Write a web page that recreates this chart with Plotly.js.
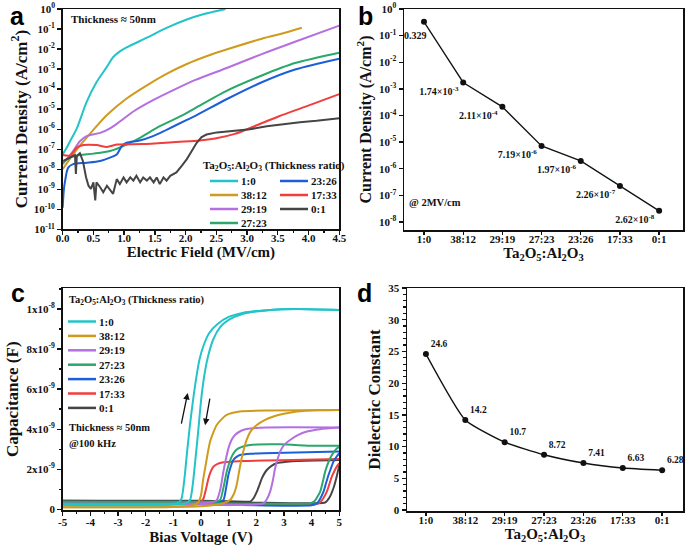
<!DOCTYPE html>
<html>
<head>
<meta charset="utf-8">
<script src="https://cdn.plot.ly/plotly-3.0.1.min.js"></script>
<style>body{margin:0;background:#fff}#fig{width:685px;height:554px}</style>
</head>
<body>
<div id="fig"></div>
<script>
// ratios and colours shared by panels a and c
var ratios = ['1:0', '38:12', '29:19', '27:23', '23:26', '17:33', '0:1'];
var colors = ['#22c4c8', '#cf9b1c', '#b46fe0', '#2aa76b', '#1c5fd8', '#f23d3d', '#454545'];

// panel a: current density (A/cm2) vs electric field (MV/cm)
var eA1 = [0, 0.06, 0.12, 0.23, 0.39, 0.55, 0.72, 0.82, 0.92, 1.04, 1.37, 1.69, 2.02, 2.3, 2.65];
var jA1 = [5.5e-8, 1.1e-7, 2.5e-7, 1.1e-6, 2.3e-5, 2.2e-4, 1.3e-3, 3.9e-3, 7.2e-3, 1.2e-2, 3.7e-2, 0.115, 0.30, 0.56, 1.0];
var eA2 = [0, 0.17, 0.34, 0.50, 0.72, 1.04, 1.37, 1.69, 2.02, 2.35, 2.69, 3.24, 3.6, 3.89];
var jA2 = [1.0e-8, 5.5e-8, 2.5e-7, 9.3e-7, 5.1e-6, 3.4e-5, 1.55e-4, 5.8e-4, 1.8e-3, 4.5e-3, 1.0e-2, 3.3e-2, 6.3e-2, 0.115];
var eA3 = [0, 0.17, 0.28, 0.39, 0.61, 0.77, 0.93, 1.15, 1.47, 1.80, 2.15, 2.69, 3.24, 3.78, 4.5];
var jA3 = [1.8e-8, 8.1e-8, 2.5e-7, 4.5e-7, 6.5e-7, 1.1e-6, 2.4e-6, 7.6e-6, 2.8e-5, 8.9e-5, 2.8e-4, 1.2e-3, 5.6e-3, 2.3e-2, 0.148];
var eA4 = [0, 0.12, 0.28, 0.50, 0.77, 1.04, 1.25, 1.58, 1.91, 2.15, 2.69, 3.24, 3.78, 4.5];
var jA4 = [2.1e-8, 3.8e-8, 5.1e-8, 6.0e-8, 8.1e-8, 1.7e-7, 3.6e-7, 1.4e-6, 4.3e-6, 1.1e-5, 8.9e-5, 4.8e-4, 2.0e-3, 6.6e-3];
var eA5 = [0, 0.02, 0.04, 0.09, 0.17, 0.39, 0.61, 0.77, 0.88, 0.96, 1.04, 1.25, 1.47, 1.69, 2.02, 2.15, 2.69, 3.24, 3.78, 4.5];
var jA5 = [1.2e-10, 1e-9, 2.7e-9, 1.2e-8, 1.8e-8, 2.1e-8, 2.6e-8, 3.8e-8, 5.5e-8, 1.4e-7, 2.1e-7, 2.7e-7, 4.5e-7, 9.3e-7, 2.9e-6, 4.5e-6, 3.4e-5, 2.2e-4, 9.5e-4, 3.3e-3];
var eA6 = [0, 0.12, 0.23, 0.34, 0.55, 0.72, 0.88, 1.3, 1.85, 2.23, 2.48, 2.80, 3.12, 3.51, 3.94, 4.5];
var jA6 = [5.1e-8, 4.8e-8, 1.2e-7, 1.6e-7, 1.6e-7, 1.3e-7, 1.7e-7, 1.8e-7, 2.3e-7, 2.7e-7, 3.4e-7, 5.8e-7, 1.4e-6, 4.3e-6, 1.3e-5, 5.6e-5];
var eA7 = [0.01, 0.12, 0.20, 0.215, 0.23, 0.28, 0.33, 0.38, 0.42, 0.46, 0.50, 0.53, 0.55, 0.61, 0.66, 0.72, 0.77, 0.82, 0.88, 0.93,
  0.99, 1.04, 1.10, 1.15, 1.20, 1.26, 1.31, 1.37, 1.42, 1.48, 1.53, 1.58, 1.64, 1.69, 1.75, 1.80, 1.85, 1.94, 2.02, 2.10,
  2.18, 2.26, 2.34, 2.51, 2.78, 3.05, 3.32, 3.59, 3.86, 4.13, 4.5];
var jA7 = [2.6e-8, 3.8e-8, 5.1e-8, 5.8e-9, 4.6e-8, 6.3e-8, 2.5e-8, 4e-9, 1.5e-9, 1.05e-9, 2.2e-9, 2.8e-10, 2.2e-9, 1.26e-9, 7.1e-10, 1.5e-9, 8.7e-10, 5.9e-10, 3.2e-9, 1.8e-9,
  3.9e-9, 2.2e-9, 3.9e-9, 2.7e-9, 4.7e-9, 2.2e-9, 3.9e-9, 2.7e-9, 3.9e-9, 2.2e-9, 3.9e-9, 1.8e-9, 3.9e-9, 2.7e-9, 4.7e-9, 5.8e-9, 6.9e-9, 1.5e-8, 3.2e-8, 8.1e-8,
  2.1e-7, 4.0e-7, 5.4e-7, 6.9e-7, 8.3e-7, 1.0e-6, 1.4e-6, 1.8e-6, 2.2e-6, 2.6e-6, 3.5e-6];
var logExpA = [-11, -10, -9, -8, -7, -6, -5, -4, -3, -2, -1, 0];

// panel b: current density at 2 MV/cm
var jAt2 = [0.329, 1.74e-3, 2.11e-4, 7.19e-6, 1.97e-6, 2.26e-7, 2.62e-8];
var jAt2Labels = ['0.329', '1.74×10<sup>-3</sup>', '2.11×10<sup>-4</sup>', '7.19×10<sup>-6</sup>', '1.97×10<sup>-6</sup>', '2.26×10<sup>-7</sup>', '2.62×10<sup>-8</sup>'];
var logExpB = [-8, -7, -6, -5, -4, -3, -2, -1, 0];

// panel c: C-V hysteresis, up sweep (u) and down sweep (d), capacitance in F
var vC1u = [-5, -1, -0.8, -0.7, -0.6, -0.5, -0.4, -0.3, -0.2, -0.05, 0.1, 0.3, 0.6, 1.0, 1.5, 2.5, 3.5, 5];
var cC1u = [0.22e-9, 0.28e-9, 0.35e-9, 0.55e-9, 1.5e-9, 2.9e-9, 4.2e-9, 5.3e-9, 6.3e-9, 7.5e-9, 8.2e-9, 8.8e-9, 9.25e-9, 9.6e-9, 9.8e-9, 9.95e-9, 10.0e-9, 9.95e-9];
var vC1d = [-5, -0.6, -0.4, -0.3, -0.2, -0.1, 0, 0.1, 0.25, 0.45, 0.7, 1.0, 1.5, 2.5, 3.5, 5];
var cC1d = [0.22e-9, 0.28e-9, 0.45e-9, 1.2e-9, 2.5e-9, 3.9e-9, 5.4e-9, 6.5e-9, 7.6e-9, 8.5e-9, 9.1e-9, 9.45e-9, 9.75e-9, 9.95e-9, 10.0e-9, 9.95e-9];
var vC2u = [-5, -1, -0.3, -0.1, 0, 0.08, 0.15, 0.25, 0.33, 0.45, 0.57, 0.75, 0.93, 1.4, 2.5, 5];
var cC2u = [0.1e-9, 0.12e-9, 0.2e-9, 0.35e-9, 0.7e-9, 1.5e-9, 2.05e-9, 2.85e-9, 3.38e-9, 3.85e-9, 4.21e-9, 4.5e-9, 4.71e-9, 4.88e-9, 4.93e-9, 4.96e-9];
var vC2d = [-5, 0, 0.8, 1.05, 1.2, 1.29, 1.38, 1.47, 1.56, 1.65, 1.8, 2.02, 2.3, 2.62, 3.0, 3.47, 4.2, 5];
var cC2d = [0.1e-9, 0.15e-9, 0.3e-9, 0.46e-9, 0.8e-9, 1.21e-9, 1.9e-9, 2.55e-9, 3.05e-9, 3.46e-9, 3.9e-9, 4.21e-9, 4.45e-9, 4.63e-9, 4.77e-9, 4.88e-9, 4.94e-9, 4.96e-9];
var vC3u = [-5, 0, 0.4, 0.57, 0.7, 0.81, 0.9, 0.99, 1.1, 1.23, 1.45, 1.65, 2.38, 5];
var cC3u = [0.28e-9, 0.3e-9, 0.35e-9, 0.46e-9, 1.0e-9, 1.88e-9, 2.5e-9, 3.04e-9, 3.45e-9, 3.71e-9, 3.92e-9, 4.01e-9, 4.08e-9, 4.08e-9];
var vC3d = [-5, 0, 1.5, 2.26, 2.4, 2.5, 2.6, 2.68, 2.77, 2.86, 3.0, 3.22, 3.5, 3.83, 4.3, 5];
var cC3d = [0.28e-9, 0.25e-9, 0.22e-9, 0.29e-9, 0.55e-9, 0.88e-9, 1.45e-9, 2.05e-9, 2.5e-9, 2.88e-9, 3.2e-9, 3.46e-9, 3.7e-9, 3.88e-9, 4.0e-9, 4.08e-9];
var vC4u = [-5, 0, 0.5, 0.69, 0.8, 0.93, 1.02, 1.11, 1.22, 1.35, 1.55, 1.78, 2.86, 4.07, 5];
var cC4u = [0.38e-9, 0.38e-9, 0.38e-9, 0.46e-9, 1.0e-9, 1.88e-9, 2.3e-9, 2.63e-9, 2.88e-9, 3.04e-9, 3.15e-9, 3.21e-9, 3.24e-9, 3.17e-9, 3.17e-9];
var vC4d = [-5, 0, 2, 3.95, 4.1, 4.2, 4.31, 4.4, 4.49, 4.58, 4.67, 4.8, 4.91, 5];
var cC4d = [0.38e-9, 0.3e-9, 0.28e-9, 0.3e-9, 0.4e-9, 0.6e-9, 0.88e-9, 1.35e-9, 1.88e-9, 2.25e-9, 2.55e-9, 2.85e-9, 3.04e-9, 3.12e-9];
var vC5u = [-5, 0, 0.6, 0.81, 0.9, 0.99, 1.08, 1.17, 1.3, 1.41, 1.8, 2.26, 5];
var cC5u = [0.33e-9, 0.33e-9, 0.35e-9, 0.46e-9, 1.0e-9, 1.71e-9, 2.15e-9, 2.46e-9, 2.63e-9, 2.71e-9, 2.77e-9, 2.8e-9, 2.88e-9];
var vC5d = [-5, 0, 2, 4.0, 4.19, 4.3, 4.43, 4.52, 4.61, 4.7, 4.79, 4.9, 5];
var cC5d = [0.33e-9, 0.25e-9, 0.2e-9, 0.2e-9, 0.29e-9, 0.5e-9, 0.88e-9, 1.3e-9, 1.71e-9, 2.05e-9, 2.38e-9, 2.62e-9, 2.8e-9];
var vC6u = [-5, -0.5, -0.1, 0.02, 0.09, 0.18, 0.27, 0.36, 0.45, 0.6, 0.81, 1.2, 1.65, 2.86, 5];
var cC6u = [0.36e-9, 0.36e-9, 0.36e-9, 0.4e-9, 0.54e-9, 1.0e-9, 1.54e-9, 1.9e-9, 2.13e-9, 2.27e-9, 2.35e-9, 2.39e-9, 2.41e-9, 2.45e-9, 2.51e-9];
var vC6d = [-5, 0, 2, 4.0, 4.25, 4.4, 4.55, 4.64, 4.73, 4.82, 4.91, 5];
var cC6d = [0.36e-9, 0.3e-9, 0.25e-9, 0.24e-9, 0.29e-9, 0.5e-9, 0.88e-9, 1.25e-9, 1.63e-9, 1.9e-9, 2.13e-9, 2.3e-9];
var vC7u = [-5, 0, 1.0, 1.6, 1.78, 1.9, 2.02, 2.11, 2.2, 2.29, 2.38, 2.55, 2.74, 3.1, 3.47, 5];
var cC7u = [0.42e-9, 0.42e-9, 0.4e-9, 0.38e-9, 0.38e-9, 0.55e-9, 0.88e-9, 1.2e-9, 1.54e-9, 1.78e-9, 1.96e-9, 2.17e-9, 2.3e-9, 2.37e-9, 2.41e-9, 2.46e-9];
var vC7d = [-5, 0, 2, 4.0, 4.5, 4.65, 4.8, 4.9, 5];
var cC7d = [0.42e-9, 0.38e-9, 0.33e-9, 0.3e-9, 0.35e-9, 0.6e-9, 1.1e-9, 1.6e-9, 2.2e-9];
var capTicks = [0, 2e-9, 4e-9, 6e-9, 8e-9, 1e-8];
var capTickText = ['0', '2x10<sup>-9</sup>', '4x10<sup>-9</sup>', '6x10<sup>-9</sup>', '8x10<sup>-9</sup>', '1x10<sup>-8</sup>'];
var voltTicks = [-5, -4, -3, -2, -1, 0, 1, 2, 3, 4, 5];
var voltTickText = ['-5', '-4', '-3', '-2', '-1', '0', '1', '2', '3', '4', '5'];

// panel d: dielectric constant
var kVals = [24.6, 14.2, 10.7, 8.72, 7.41, 6.63, 6.28];

var serif = 'Liberation Serif, Times New Roman, serif';
var oxide = 'Ta<sub>2</sub>O<sub>5</sub>:Al<sub>2</sub>O<sub>3</sub>';
function px(x) { return x / 685; }
function py(y) { return 1 - y / 554; }

var data = [];
var eA = [eA1, eA2, eA3, eA4, eA5, eA6, eA7];
var jA = [jA1, jA2, jA3, jA4, jA5, jA6, jA7];
for (var i = 0; i < ratios.length; i++) {
  data.push({
    x: eA[i], y: jA[i], xaxis: 'x', yaxis: 'y', type: 'scatter', mode: 'lines', name: ratios[i],
    line: {color: colors[i], width: 2, shape: i === 6 ? 'linear' : 'spline', smoothing: 0.8}
  });
}

// first label of panel b sits under its point as an annotation, the rest are point texts
data.push({
  x: ratios, y: jAt2, xaxis: 'x2', yaxis: 'y2', type: 'scatter', mode: 'lines+markers+text', cliponaxis: false,
  text: jAt2Labels.map(function (t, n) { return n === 0 ? '' : t; }),
  textposition: 'bottom left',
  textfont: {family: serif, size: 10, color: '#111', weight: 'bold'},
  line: {color: '#111', width: 1.3}, marker: {color: '#111', size: 6}
});

var vUp = [vC1u, vC2u, vC3u, vC4u, vC5u, vC6u, vC7u];
var cUp = [cC1u, cC2u, cC3u, cC4u, cC5u, cC6u, cC7u];
var vDn = [vC1d, vC2d, vC3d, vC4d, vC5d, vC6d, vC7d];
var cDn = [cC1d, cC2d, cC3d, cC4d, cC5d, cC6d, cC7d];
for (var k = ratios.length - 1; k >= 0; k--) {
  [[vUp[k], cUp[k]], [vDn[k], cDn[k]]].forEach(function (br) {
    data.push({
      x: br[0], y: br[1], xaxis: 'x3', yaxis: 'y3', type: 'scatter', mode: 'lines', name: ratios[k],
      line: {color: colors[k], width: 2, shape: 'spline', smoothing: 0.6}
    });
  });
}

data.push({
  x: ratios, y: kVals, xaxis: 'x4', yaxis: 'y4', type: 'scatter', mode: 'lines+markers+text', cliponaxis: false,
  text: kVals.map(String), textposition: 'top right', textfont: {family: serif, size: 9.5, color: '#111', weight: 'bold'},
  line: {color: '#111', width: 1.5, shape: 'spline', smoothing: 0.5}, marker: {color: '#111', size: 6}
});

var tickFont = {family: serif, size: 11, color: '#111', weight: 'bold'};
function axis(extra) {
  var base = {
    showline: true, mirror: true, linecolor: '#111', linewidth: 1.5, showgrid: false, zeroline: false,
    ticks: 'outside', ticklen: 4, tickwidth: 1.3, tickcolor: '#111', tickfont: tickFont, automargin: false,
    ticklabeloverflow: 'allow'
  };
  for (var key in extra) base[key] = extra[key];
  return base;
}
function ttl(text, size, standoff) {
  return {text: text, font: {family: serif, size: size, color: '#111', weight: 'bold'}, standoff: standoff};
}

var shapes = [];
var annotations = [];
function addKey(i, xLine, yRow) {
  shapes.push({type: 'line', xref: 'paper', yref: 'paper', x0: px(xLine), x1: px(xLine + 28), y0: py(yRow), y1: py(yRow),
    line: {color: colors[i], width: 2.5}});
  annotations.push({xref: 'paper', yref: 'paper', x: px(xLine + 29), y: py(yRow), xanchor: 'left', yanchor: 'middle',
    text: ratios[i], showarrow: false, font: {family: serif, size: 11, color: '#111', weight: 'bold'}});
}
function note(x, y, text, size) {
  annotations.push({xref: 'paper', yref: 'paper', x: px(x), y: py(y), xanchor: 'left', yanchor: 'middle',
    text: text, showarrow: false, font: {family: serif, size: size, color: '#111', weight: 'bold'}});
}
function letter(x, y, t) {
  annotations.push({xref: 'paper', yref: 'paper', x: px(x), y: py(y), xanchor: 'center', yanchor: 'middle',
    text: t, showarrow: false, font: {family: 'Liberation Sans, Arial, sans-serif', size: 25, color: '#000', weight: 'bold'}});
}

// panel a key (two columns)
note(201, 166, oxide + ' (Thickness ratio)', 11);
for (var a = 0; a < 4; a++) addKey(a, 210, 181 + 14 * a);
for (var b = 4; b < 7; b++) addKey(b, 280, 181 + 14 * (b - 4));
note(69, 19, 'Thickness ≈ 50nm', 11);

// panel c key
note(67, 300, oxide + ' (Thickness ratio)', 10.5);
for (var c = 0; c < 7; c++) addKey(c, 68, 321.5 + 14.4 * c);
note(67, 427, 'Thickness ≈ 50nm', 10.5);
note(67, 443, '@100 kHz', 10.5);

note(407, 202, '@ 2MV/cm', 10.5);

// label of the first point in panel b (log axis: annotation y is the exponent)
annotations.push({xref: 'x2', yref: 'y2', x: ratios[0], y: Math.log10(jAt2[0]), xanchor: 'right', yanchor: 'top',
  xshift: 5, yshift: -6, text: jAt2Labels[0], showarrow: false,
  font: {family: serif, size: 10, color: '#111', weight: 'bold'}});

// sweep direction arrows in panel c
annotations.push({xref: 'x3', yref: 'y3', axref: 'x3', ayref: 'y3', x: -0.48, y: 5.8e-9, ax: -0.72, ay: 4.2e-9,
  showarrow: true, arrowhead: 2, arrowsize: 1, arrowwidth: 1.3, arrowcolor: '#111', text: ''});
annotations.push({xref: 'x3', yref: 'y3', axref: 'x3', ayref: 'y3', x: 0.15, y: 4.2e-9, ax: 0.33, ay: 5.6e-9,
  showarrow: true, arrowhead: 2, arrowsize: 1, arrowwidth: 1.3, arrowcolor: '#111', text: ''});

letter(17, 16, 'a');
letter(365, 16, 'b');
letter(18, 293, 'c');
letter(364, 293, 'd');

var layout = {
  width: 685, height: 554, margin: {l: 0, r: 0, t: 0, b: 0},
  paper_bgcolor: '#fff', plot_bgcolor: '#fff', showlegend: false,
  font: {family: serif, size: 11, color: '#111', weight: 'bold'},
  xaxis: axis({domain: [0.0915, 0.4953], anchor: 'y', range: [0, 4.5], dtick: 0.5, tickformat: '.1f',
    ticklabelstandoff: -6,
    minor: {dtick: 0.25, ticks: 'outside', ticklen: 2.5, tickcolor: '#111'},
    title: ttl('Electric Field (MV/cm)', 15, 0)}),
  yaxis: axis({domain: [py(229.3), py(9)], anchor: 'x', type: 'log', range: [-11, 0],
    tickmode: 'array', tickvals: logExpA.map(function (p) { return Math.pow(10, p); }),
    ticktext: logExpA.map(function (p) { return '10<sup>' + p + '</sup>'; }),
    title: ttl('Current Density (A/cm<sup>2</sup>)', 17, 2)}),
  xaxis2: axis({domain: [0.5898, 0.9971], anchor: 'y2', type: 'category', range: [-0.51, 6.61],
    ticklen: 3, ticklabelstandoff: -5,
    title: ttl(oxide, 15, 1)}),
  yaxis2: axis({domain: [py(230), py(9)], anchor: 'x2', type: 'log', range: [-8.3, 0],
    tickmode: 'array', tickvals: logExpB.map(function (p) { return Math.pow(10, p); }),
    ticktext: logExpB.map(function (p) { return '10<sup>' + p + '</sup>'; }),
    title: ttl('Current Density (A/cm<sup>2</sup>)', 16, 3)}),
  xaxis3: axis({domain: [0.0915, 0.4953], anchor: 'y3', range: [-5, 5],
    tickmode: 'array', tickvals: voltTicks, ticktext: voltTickText, ticklabelstandoff: -3,
    minor: {tickmode: 'linear', tick0: -5, dtick: 0.5, ticks: 'outside', ticklen: 2.5, tickcolor: '#111'},
    title: ttl('Bias Voltage (V)', 15, 4)}),
  yaxis3: axis({domain: [0.0789, 0.4796], anchor: 'x3', range: [-0.05e-9, 11.03e-9],
    tickmode: 'array', tickvals: capTicks, ticktext: capTickText,
    minor: {tickmode: 'linear', tick0: 0, dtick: 1e-9, ticks: 'outside', ticklen: 2.5, tickcolor: '#111'},
    title: ttl('Capacitance (F)', 17, 3)}),
  xaxis4: axis({domain: [0.5942, 0.9971], anchor: 'y4', type: 'category', range: [-0.48, 6.53],
    ticklen: 3, ticklabelstandoff: -5,
    title: ttl(oxide, 15, 1)}),
  yaxis4: axis({domain: [0.0776, 0.4801], anchor: 'x4', range: [-0.15, 35], dtick: 5,
    minor: {dtick: 1, ticks: 'outside', ticklen: 2.5, tickcolor: '#111'},
    title: ttl('Dielectric Constant', 17, 3)}),
  shapes: shapes,
  annotations: annotations
};

Plotly.newPlot('fig', data, layout, {displayModeBar: false, staticPlot: true});
</script>
</body>
</html>
